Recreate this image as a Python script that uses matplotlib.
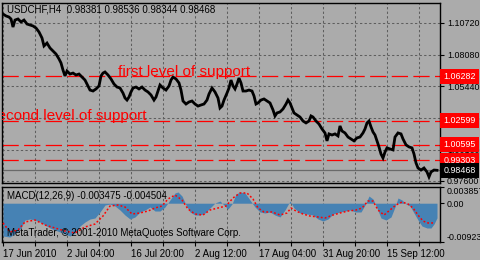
import matplotlib
matplotlib.use("Agg")
import matplotlib.pyplot as plt

plt.rcParams['font.family'] = ['Liberation Sans', 'DejaVu Sans']

# ---------------- data ----------------
bar_idx = [3,6,9,11,13,15,18,21,24,27,30,33,36,39,42,44,47,50,53,56,59,61,63,65,67,70,73,76,79,82,
           85,88,90,93,96,99,101,103,105,108,111,114,117,120,123,125,127,129,131,133,136,139,142,145,
           148,151,154,156,158,160,163,166,169,171,173,176,179,181,183,186,189,192,195,198,201,204,207,
           209,212,215,218,220,222,224,227,229,231,233,235,237,239,241,243,246,249,252,254,256,258,261,
           264,267,270,273,275,277,280,283,286,288,290,292,294,297,300,303,306,309,311,313,316,319,322,
           325,327,329,332,335,338,340,342,345,348,351,354,357,360,363,365,367,369,371,373,375,377,379,
           381,383,385,387,390,393,395,398,401,403,406,409,412,414,416,418,421,424,427,429,431,434,437]
close = [1.1144,1.1128,1.1119,1.1103,1.1036,1.1094,1.1103,1.1078,1.1094,1.1061,1.1053,1.1045,1.1028,
         1.0995,1.0945,1.0879,1.0903,1.0862,1.0837,1.0812,1.0771,1.0738,1.0679,1.0630,1.0671,1.0646,
         1.0654,1.0638,1.0646,1.0621,1.0596,1.0547,1.0513,1.0505,1.0522,1.0547,1.0630,1.0654,1.0663,
         1.0638,1.0605,1.0563,1.0538,1.0530,1.0488,1.0447,1.0430,1.0455,1.0497,1.0530,1.0538,1.0522,
         1.0538,1.0513,1.0497,1.0472,1.0430,1.0455,1.0505,1.0555,1.0530,1.0513,1.0547,1.0596,1.0621,
         1.0605,1.0572,1.0513,1.0422,1.0397,1.0414,1.0422,1.0397,1.0380,1.0389,1.0397,1.0430,1.0480,
         1.0530,1.0497,1.0447,1.0364,1.0380,1.0430,1.0488,1.0530,1.0596,1.0547,1.0522,1.0563,1.0613,
         1.0572,1.0505,1.0505,1.0513,1.0505,1.0464,1.0397,1.0406,1.0430,1.0439,1.0422,1.0406,1.0348,
         1.0298,1.0323,1.0331,1.0356,1.0397,1.0430,1.0406,1.0364,1.0323,1.0306,1.0289,1.0256,1.0240,
         1.0256,1.0298,1.0289,1.0256,1.0231,1.0190,1.0157,1.0091,1.0149,1.0140,1.0149,1.0132,1.0215,
         1.0173,1.0157,1.0123,1.0107,1.0091,1.0116,1.0123,1.0157,1.0190,1.0240,1.0256,1.0207,1.0165,
         1.0140,1.0091,1.0041,0.9982,0.9949,0.9999,1.0033,1.0024,1.0016,1.0123,1.0157,1.0149,1.0107,
         1.0058,1.0041,1.0033,0.9982,0.9908,0.9866,0.9849,0.9866,0.9833,0.9792,0.9833,0.9849,0.9847]

support_levels = [1.06282, 1.02599, 1.00595, 0.99303]
support_labels = ["1.06282", "1.02599", "1.00595", "0.99303"]
bid_price = 0.98468
bid_label = "0.98468"

price_ticks = [1.1072, 1.0808, 1.0544, 1.0280, 1.0016, 0.9760]
price_tick_labels = ["1.10720", "1.08080", "1.05440", "1.02800", "1.00160", "0.97600"]

macd_bars = [3,10,17,21,25,30,35,40,45,50,55,60,65,70,75,80,85,90,95,100,105,110,115,120,125,130,135,
             140,145,150,155,160,165,170,175,178,182,186,190,195,200,205,210,215,220,224,228,232,236,240,
             245,250,255,260,265,270,275,280,285,290,294,300,307,313,318,323,328,333,340,345,350,356,361,
             365,369,373,377,381,386,391,395,398,402,406,410,414,418,422,427,431,434,437]
macd_main = [-0.00781,-0.00804,-0.00685,-0.00590,-0.00400,-0.00376,-0.00400,-0.00447,-0.00519,-0.00590,
             -0.00638,-0.00685,-0.00733,-0.00781,-0.00709,-0.00543,-0.00447,-0.00376,-0.00352,-0.00209,
             -0.00043,-0.00019,-0.00067,-0.00162,-0.00281,-0.00376,-0.00328,-0.00209,-0.00162,-0.00090,
             -0.00186,-0.00186,-0.00090,0.00076,0.00243,0.00267,0.00171,-0.00043,-0.00209,-0.00281,
             -0.00281,-0.00233,-0.00114,0.00005,0.00052,-0.00043,-0.00138,-0.00019,0.00219,0.00267,
             0.00243,0.00076,-0.00090,-0.00209,-0.00233,-0.00209,-0.00281,-0.00328,-0.00162,0.00052,
             -0.00114,-0.00233,-0.00257,-0.00281,-0.00376,-0.00424,-0.00376,-0.00257,-0.00209,-0.00186,
             -0.00162,-0.00209,-0.00209,-0.00043,0.00171,0.00100,-0.00114,-0.00352,-0.00400,-0.00328,
             -0.00090,0.00124,0.00076,-0.00019,-0.00067,-0.00233,-0.00400,-0.00543,-0.00590,-0.00590,
             -0.00495,-0.00348]
signal_bars = [3,10,18,25,35,45,55,65,75,85,95,103,110,118,125,132,140,148,155,162,168,175,182,188,195,
               203,210,218,226,233,240,247,253,258,264,272,280,287,291,296,303,310,318,325,333,340,348,
               356,362,368,373,378,384,390,396,402,408,413,418,423,428,433]
macd_signal = [-0.00471,-0.00685,-0.00638,-0.00447,-0.00400,-0.00519,-0.00590,-0.00662,-0.00709,
               -0.00566,-0.00495,-0.00305,-0.00067,-0.00043,-0.00090,-0.00257,-0.00233,-0.00186,
               -0.00114,-0.00067,0.00100,0.00195,0.00076,-0.00138,-0.00257,-0.00281,-0.00162,-0.00114,
               -0.00067,0.00124,0.00243,0.00243,0.00100,-0.00114,-0.00209,-0.00209,-0.00281,-0.00233,
               -0.00114,-0.00186,-0.00257,-0.00305,-0.00328,-0.00352,-0.00281,-0.00233,-0.00186,
               -0.00162,-0.00114,0.00052,0.00052,-0.00162,-0.00281,-0.00162,-0.00043,0.00029,-0.00019,
               -0.00114,-0.00281,-0.00424,-0.00470,-0.00470]
macd_ticks = [0.003857, 0.0, -0.00923]
macd_tick_labels = ["0.003857", "0.00", "-0.00923"]

date_positions = [3, 35, 67, 99, 131, 163, 195, 227, 259, 291, 323, 355, 387, 419]
date_labels = ["17 Jun 2010", "", "2 Jul 04:00", "", "16 Jul 20:00", "", "2 Aug 12:00", "",
               "17 Aug 04:00", "", "31 Aug 20:00", "", "15 Sep 12:00", ""]

header = "USDCHF,H4  0.98381 0.98536 0.98344 0.98468"
macd_title = "MACD(12,26,9) -0.003475 -0.004504"
copyright_text = "MetaTrader, \u00a9 2001-2010 MetaQuotes Software Corp."

# ---------------- style ----------------
BG = "#ababab"
GRID = "#5e5e5e"
FS = 7
FS_AX = 6.4

fig = plt.figure(figsize=(4.8, 2.6), dpi=100, facecolor=BG)
W, H = 480.0, 260.0
ax = fig.add_axes([2 / W, 1 - 183 / H, 438 / W, 180 / H])
ax2 = fig.add_axes([2 / W, 1 - 242 / H, 438 / W, 55 / H])

for a in (ax, ax2):
    a.set_facecolor(BG)
    for s in a.spines.values():
        s.set_color("black")
        s.set_linewidth(1.0)
    a.set_xlim(2, 440)
    for xp in date_positions:
        a.axvline(xp, color=GRID, lw=0.75, dashes=(2.2, 2.2), zorder=1)
    a.yaxis.tick_right()
    a.tick_params(axis='y', direction='out', length=3, width=0.8, pad=2,
                  labelsize=FS_AX, colors='black')

# ---- main price panel ----
ax.set_ylim(0.97415, 1.12355)
for yp in price_ticks:
    ax.axhline(yp, color=GRID, lw=0.75, dashes=(2.2, 2.2), zorder=1)
ax.set_yticks(price_ticks)
ax.set_yticklabels(price_tick_labels)
ax.set_xticks([])

for lvl in support_levels:
    ax.axhline(lvl, color="#ff0000", lw=0.9, dashes=(13, 4.3), zorder=2)
ax.axhline(bid_price, color="#6a6a6a", lw=0.9, zorder=2)

ax.plot(bar_idx, close, color="black", lw=2.0, zorder=3, solid_joinstyle='miter')

ax.text(118, support_levels[0] + 0.0003, "first level of support", color="#ff0000",
        fontsize=11, ha='left', va='baseline', zorder=4, clip_on=True)
ax.text(147, support_levels[1] + 0.0003, "second level of support", color="#ff0000",
        fontsize=11, ha='right', va='baseline', zorder=4, clip_on=True)

for lvl, lab in zip(support_levels, support_labels):
    ax.annotate(lab, xy=(1.0, lvl), xycoords=('axes fraction', 'data'),
                xytext=(2.4, 0), textcoords='offset points', ha='left', va='center',
                fontsize=FS_AX, color='white', annotation_clip=False, zorder=5,
                bbox=dict(boxstyle='square,pad=0.35', fc='#ff0000', ec='none'))
ax.annotate(bid_label, xy=(1.0, bid_price), xycoords=('axes fraction', 'data'),
            xytext=(2.4, 0), textcoords='offset points', ha='left', va='center',
            fontsize=FS_AX, color='white', annotation_clip=False, zorder=5,
            bbox=dict(boxstyle='square,pad=0.35', fc='black', ec='none'))

# ---- MACD panel ----
ax2.set_ylim(-0.00923, 0.003857)
ax2.fill_between(macd_bars, macd_main, 0, color="#4682b4", lw=0, zorder=2)
ax2.plot(signal_bars, macd_signal, color="#ff0000", lw=1.1, ls=(0, (1.2, 1.4)), zorder=3)
ax2.set_yticks(macd_ticks)
ax2.set_yticklabels(macd_tick_labels)
tl = ax2.get_yticklabels()
tl[0].set_va('top')
tl[2].set_va('bottom')
ax2.set_xticks(date_positions)
ax2.set_xticklabels(date_labels, ha='left')
ax2.tick_params(axis='x', direction='out', length=3, width=0.8, pad=2,
                labelsize=FS, colors='black')
for t in ax2.get_xticklabels():
    t.set_horizontalalignment('left')

# ---- header texts ----
fig.text(7 / W, 1 - 10 / H, header, fontsize=FS, color="black", va='center', ha='left')
fig.text(7 / W, 1 - 196 / H, macd_title, fontsize=FS, color="black", va='center', ha='left')
fig.text(7 / W, 1 - 233 / H, copyright_text, fontsize=FS, color="black", va='center', ha='left')

fig.savefig("out.png", dpi=100, facecolor=BG)
